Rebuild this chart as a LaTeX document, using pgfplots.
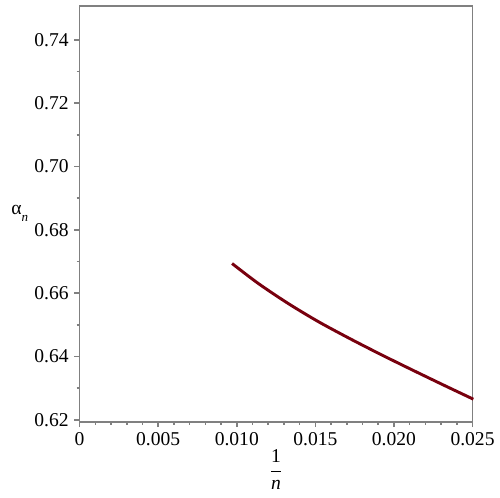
\documentclass[border=0pt]{standalone}
\usepackage{pgfplots}
\pgfplotsset{compat=1.18}
\usepackage{fontspec}
\setmainfont{Liberation Serif}
\usetikzlibrary{calc}
\definecolor{mapleaxis}{RGB}{128,128,128}
\definecolor{maplered}{RGB}{120,0,14}
\begin{document}
\begin{tikzpicture}[font=\fontsize{12}{14}\selectfont]
\begin{axis}[
  name=ax, scale only axis, width=240.9pt, height=254.9pt,
  xmin=0, xmax=0.025, ymin=0.6194, ymax=0.7507,
  clip=false,
  axis line style={mapleaxis, line width=1pt},
  tick pos=left, tick align=outside,
  major tick length=3.2pt, minor tick length=1.8pt,
  tick style={mapleaxis, line width=1pt},
  xtick={0,0.005,0.010,0.015,0.020,0.025},
  xticklabels={0,0.005,0.010,0.015,0.020,0.025},
  minor x tick num=4,
  ytick={0.62,0.64,0.66,0.68,0.70,0.72,0.74},
  yticklabels={0.62,0.64,0.66,0.68,0.70,0.72,0.74},
  minor y tick num=1,
  scaled ticks=false,
  xlabel={$\displaystyle\frac{\mbox{1}}{\mbox{\itshape n}}$},
  xlabel style={at={(axis description cs:0.5,-0.115)}, anchor=center},
]
\addplot[maplered, line width=1.8pt, smooth] coordinates {
  (0.00970,0.66939) (0.01136,0.66312) (0.01326,0.65680) (0.01517,0.65109)
  (0.01708,0.64597) (0.01899,0.64110) (0.02090,0.63642) (0.02302,0.63133)
  (0.02489,0.62692) (0.02500,0.62666)
};
\node at (axis description cs:-0.152,0.502) {α\raisebox{-0.8ex}{\footnotesize\itshape n}};
\end{axis}
\path ($(ax.south west)+(-48.8pt,-46.3pt)$) rectangle ($(ax.north east)+(15.2pt,3.7pt)$);
\end{tikzpicture}
\end{document}
